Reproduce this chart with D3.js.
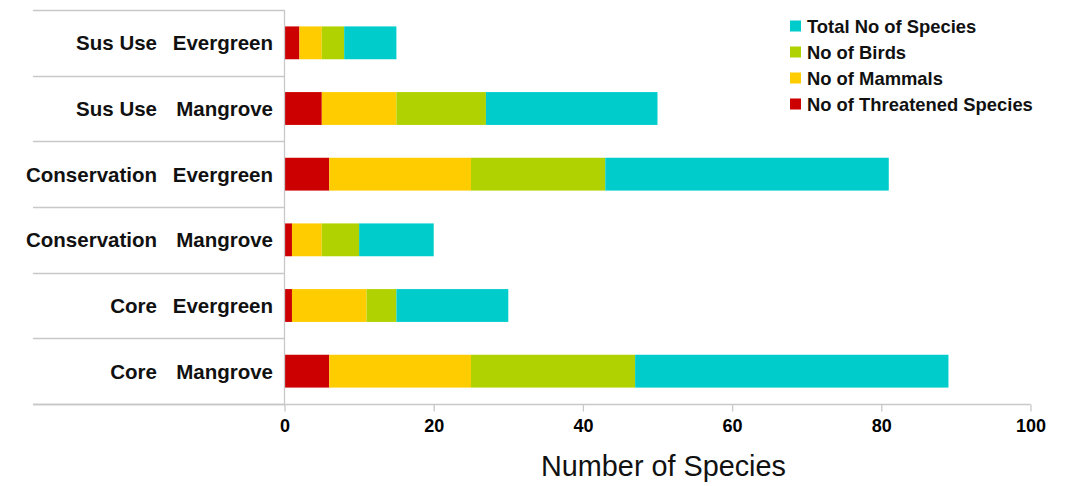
<!DOCTYPE html>
<html>
<head>
<meta charset="utf-8">
<script src="https://cdn.jsdelivr.net/npm/d3@7"></script>
<style>
  html, body { margin: 0; padding: 0; background: #fff; }
  svg { display: block; font-family: "Liberation Sans", Arial, sans-serif; }
</style>
</head>
<body>
<svg id="chart" width="1065" height="486"></svg>
<script>
// Reserve zone and habitat for each row, top to bottom
const zones    = ["Sus Use", "Sus Use", "Conservation", "Conservation", "Core", "Core"];
const habitats = ["Evergreen", "Mangrove", "Evergreen", "Mangrove", "Evergreen", "Mangrove"];

// Stacked segment values per row
const threatened = [2, 5, 6, 1, 1, 6];
const mammals    = [3, 10, 19, 4, 10, 19];
const birds      = [3, 12, 18, 5, 4, 22];
const total      = [7, 23, 38, 10, 15, 42];

const xTicks = [0, 20, 40, 60, 80, 100];

const seriesNames = ["No of Threatened Species", "No of Mammals", "No of Birds", "Total No of Species"];
const seriesColors = ["#cc0000", "#ffcc00", "#b0d200", "#00cccc"];

const rows = zones.map((z, i) => ({
  key: z + "|" + habitats[i],
  zone: z,
  habitat: habitats[i],
  s0: threatened[i], s1: mammals[i], s2: birds[i], s3: total[i]
}));

const svg = d3.select("#chart");
const plotLeft = 284.5, plotRight = 1030.5, plotTop = 10, plotBottom = 404;
const labelLeft = 33;

const x = d3.scaleLinear().domain([0, 100]).range([plotLeft, plotRight]);
const y = d3.scaleBand().domain(rows.map(d => d.key))
  .range([plotTop, plotBottom]).paddingInner(0.5).paddingOuter(0.25);

const stack = d3.stack().keys(["s0", "s1", "s2", "s3"]);
const layers = stack(rows);

// Category separator lines in the label area
const bandStep = (plotBottom - plotTop) / rows.length;
const seps = d3.range(rows.length + 1).map(i => plotTop + i * bandStep);
svg.append("g").selectAll("line").data(seps).join("line")
  .attr("x1", labelLeft).attr("x2", plotLeft)
  .attr("y1", d => Math.round(d) + 0.5).attr("y2", d => Math.round(d) + 0.5)
  .attr("stroke", "#c8c8c8").attr("stroke-width", 1.3);

// Bars
svg.append("g").selectAll("g").data(layers).join("g")
  .attr("fill", (d, i) => seriesColors[i])
  .selectAll("rect").data(d => d).join("rect")
  .attr("x", d => x(d[0]))
  .attr("width", d => x(d[1]) - x(d[0]))
  .attr("y", d => y(d.data.key))
  .attr("height", y.bandwidth());

// Vertical axis line
svg.append("line")
  .attr("x1", plotLeft).attr("x2", plotLeft)
  .attr("y1", plotTop).attr("y2", plotBottom)
  .attr("stroke", "#c8c8c8").attr("stroke-width", 1.3);

// Bottom axis
const xAxis = d3.axisBottom(x).tickValues(xTicks).tickSize(7).tickPadding(8).tickSizeOuter(0);
const gx = svg.append("g").attr("transform", `translate(0,${Math.round(plotBottom) + 0.5})`).call(xAxis);
gx.select(".domain").remove();
gx.selectAll(".tick line").attr("stroke", "#c8c8c8").attr("stroke-width", 1.3);
gx.selectAll(".tick text")
  .attr("font-family", "'Liberation Sans', Arial, sans-serif")
  .attr("font-size", 18).attr("font-weight", "bold").attr("fill", "#000");
svg.append("line")
  .attr("x1", labelLeft).attr("x2", plotRight)
  .attr("y1", Math.round(plotBottom) + 0.5).attr("y2", Math.round(plotBottom) + 0.5)
  .attr("stroke", "#c8c8c8").attr("stroke-width", 1.3);

// Two-level category labels
const lab = svg.append("g").attr("font-size", 20.5).attr("font-weight", "bold").attr("fill", "#111");
lab.selectAll("text.zone").data(rows).join("text").attr("class", "zone")
  .attr("x", 157).attr("y", d => y(d.key) + y.bandwidth() / 2 + 7.5)
  .attr("text-anchor", "end").text(d => d.zone);
lab.selectAll("text.hab").data(rows).join("text").attr("class", "hab")
  .attr("x", 273).attr("y", d => y(d.key) + y.bandwidth() / 2 + 7.5)
  .attr("text-anchor", "end").text(d => d.habitat);

// Axis title
svg.append("text")
  .attr("x", (plotLeft + plotRight) / 2 + 6).attr("y", 476)
  .attr("text-anchor", "middle").attr("font-size", 28.8).attr("fill", "#111")
  .text("Number of Species");

// Legend, listed top series first
const legendOrder = [3, 2, 1, 0];
const lg = svg.append("g");
const items = lg.selectAll("g").data(legendOrder).join("g")
  .attr("transform", (d, i) => `translate(790,${26 + i * 26})`);
items.append("rect").attr("x", 0).attr("y", -5.5).attr("width", 11).attr("height", 11)
  .attr("fill", d => seriesColors[d]);
items.append("text").attr("x", 17).attr("y", 6.5)
  .attr("font-size", 18.4).attr("font-weight", "bold").attr("fill", "#111")
  .text(d => seriesNames[d]);
</script>
</body>
</html>
